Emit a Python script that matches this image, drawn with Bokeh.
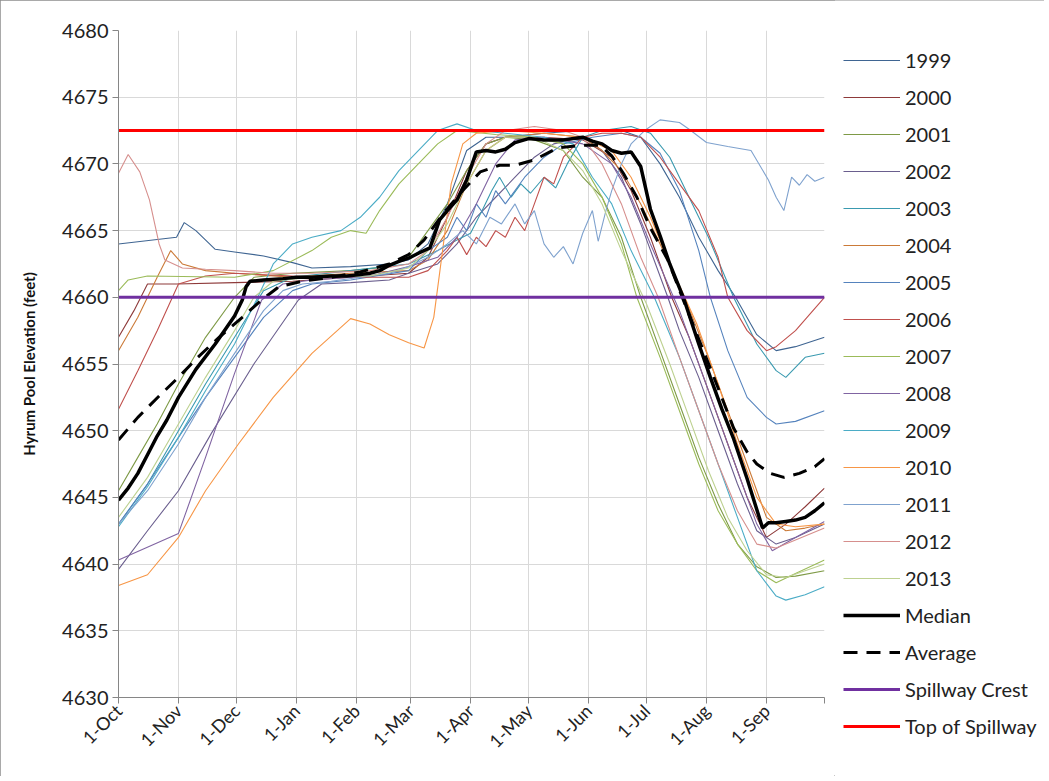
import math
from bokeh.plotting import figure
from bokeh.layouts import row
from bokeh.models import Range1d, FixedTicker, Legend, LegendItem
from bokeh.embed import file_html
from bokeh.resources import INLINE

# ---------------- data (day of water year, elevation ft) ----------------
MONTH_TICKS = [0, 31, 61, 92, 123, 151, 182, 212, 243, 273, 304, 335, 365]
MONTH_LABELS = ["1-Oct", "1-Nov", "1-Dec", "1-Jan", "1-Feb", "1-Mar", "1-Apr",
                "1-May", "1-Jun", "1-Jul", "1-Aug", "1-Sep", ""]

D1999 = [0, 30, 34, 40, 50, 60, 75, 90, 100, 120, 140, 150, 160, 170, 180, 190, 200, 220, 240, 260, 270, 280, 290, 300, 310, 319, 330, 340, 350, 365]
E1999 = [4664, 4664.5, 4665.6, 4665, 4663.6, 4663.4, 4663.1, 4662.6, 4662.2, 4662.3, 4662.5, 4662.8, 4664, 4667, 4671, 4672, 4672, 4672.3, 4672.5, 4672.5, 4672, 4670, 4667.5, 4664.5, 4662, 4660, 4657.2, 4656, 4656.3, 4657]

D2000 = [0, 8, 15, 30, 60, 90, 120, 150, 160, 170, 180, 190, 200, 220, 240, 255, 265, 275, 286, 295, 305, 315, 325, 335, 345, 355, 365]
E2000 = [4657, 4659, 4661, 4661, 4661.1, 4661.2, 4661.5, 4661.8, 4663, 4666, 4669.5, 4671.5, 4672, 4672, 4671.8, 4670.5, 4668, 4664.5, 4660, 4657, 4653, 4649, 4645, 4642, 4643, 4644.3, 4645.7]

D2001 = [0, 10, 20, 31, 45, 60, 70, 90, 120, 140, 150, 160, 170, 180, 190, 200, 215, 230, 240, 250, 260, 270, 280, 290, 300, 310, 320, 330, 340, 350, 365]
E2001 = [4645.5, 4648, 4650.5, 4653.5, 4657, 4660, 4661.5, 4661.8, 4662, 4662.3, 4663, 4665, 4667, 4669.5, 4671.5, 4672, 4671.8, 4671, 4669, 4667.5, 4664.5, 4660, 4656, 4652, 4648, 4644.5, 4641.5, 4639.8, 4639, 4639.1, 4639.5]

D2002 = [0, 15, 31, 48, 70, 93, 105, 120, 140, 150, 165, 175, 185, 195, 205, 215, 225, 240, 250, 260, 270, 284, 290, 300, 310, 320, 330, 340, 350, 365]
E2002 = [4639.6, 4642.5, 4645.5, 4649.8, 4655, 4659.8, 4661, 4661.1, 4661.3, 4661.8, 4662.5, 4664, 4666, 4667.5, 4669, 4670.5, 4671.5, 4672, 4671, 4669, 4665.5, 4660, 4657.5, 4654, 4650, 4646, 4642.5, 4641.5, 4642, 4643]

D2003 = [0, 15, 31, 45, 60, 75, 90, 120, 150, 165, 175, 182, 188, 193, 197, 203, 208, 213, 220, 226, 232, 240, 250, 265, 275, 285, 295, 305, 318, 330, 340, 345, 355, 365]
E2003 = [4643, 4646, 4650, 4653.5, 4657, 4660.5, 4661.5, 4662, 4662.5, 4663.5, 4664.3, 4664.8, 4666.5, 4668, 4669, 4667.5, 4668.5, 4667.8, 4669, 4668.2, 4670, 4672, 4672.5, 4672.8, 4672.3, 4670.5, 4667.5, 4664.5, 4660, 4656.5, 4654.5, 4654, 4655.5, 4655.8]

D2004 = [0, 10, 20, 27, 33, 45, 60, 90, 120, 150, 160, 170, 180, 190, 200, 220, 240, 250, 260, 270, 280, 294, 305, 315, 325, 335, 345, 355, 365]
E2004 = [4656, 4658.5, 4661.5, 4663.5, 4662.5, 4662, 4661.8, 4661.5, 4661.8, 4662, 4662.8, 4665, 4668.5, 4671, 4672, 4672.3, 4672, 4671, 4669.5, 4667, 4664, 4659.5, 4655.5, 4651.5, 4647.5, 4643.5, 4642.5, 4642.7, 4643]

D2005 = [0, 15, 31, 45, 60, 75, 90, 100, 120, 150, 160, 170, 175, 180, 185, 190, 195, 200, 210, 220, 230, 245, 260, 270, 280, 290, 300, 306, 315, 325, 335, 340, 350, 365]
E2005 = [4643, 4646, 4649.5, 4652.5, 4655.5, 4658.5, 4660.5, 4661, 4661.3, 4662, 4663.5, 4664.5, 4666, 4665, 4667, 4666, 4668, 4667, 4669, 4670.5, 4671.5, 4672, 4672.3, 4672, 4670.8, 4668, 4663.5, 4660, 4656, 4652.5, 4651, 4650.5, 4650.7, 4651.5]

D2006 = [0, 10, 20, 31, 45, 60, 90, 120, 150, 160, 170, 175, 180, 185, 190, 195, 200, 205, 210, 215, 220, 225, 230, 240, 250, 260, 270, 280, 290, 300, 310, 315, 325, 335, 340, 350, 365]
E2006 = [4651.6, 4654.5, 4657.5, 4661, 4661.6, 4661.8, 4661.6, 4661.5, 4661.5, 4662, 4663.5, 4664.5, 4663.2, 4664.5, 4663.8, 4665, 4664.5, 4666, 4665, 4667, 4669, 4668.5, 4670.5, 4672, 4672.3, 4672.3, 4672, 4670.5, 4668.5, 4666.5, 4663, 4660, 4657.5, 4656, 4656.3, 4657.5, 4660]

D2007 = [0, 5, 15, 60, 80, 100, 110, 120, 128, 135, 145, 155, 165, 175, 195, 215, 230, 240, 250, 260, 268, 280, 290, 300, 310, 320, 330, 340, 350, 365]
E2007 = [4660.5, 4661.3, 4661.6, 4661.5, 4662, 4663.5, 4664.5, 4665, 4664.8, 4666.5, 4668.5, 4670, 4671.5, 4672.5, 4672.2, 4672, 4671.5, 4670, 4667.5, 4664, 4660, 4655.5, 4651.5, 4647.5, 4644, 4641.5, 4639.5, 4638.6, 4639.3, 4640.3]

D2008 = [0, 31, 45, 60, 74, 85, 100, 130, 150, 165, 175, 185, 195, 205, 220, 240, 255, 265, 275, 290, 300, 310, 320, 330, 338, 350, 365]
E2008 = [4640.3, 4642.3, 4648, 4654.3, 4659.8, 4661, 4661.3, 4661.6, 4662.3, 4663, 4664.5, 4667, 4670, 4671.8, 4672, 4671.5, 4670, 4667.5, 4664, 4659, 4655, 4651, 4647, 4643, 4641, 4642, 4643.2]

D2009 = [0, 15, 31, 45, 60, 72, 80, 90, 100, 115, 125, 135, 145, 155, 165, 175, 185, 200, 220, 235, 245, 255, 265, 277, 290, 300, 310, 320, 330, 340, 345, 355, 365]
E2009 = [4642.8, 4645.8, 4649.5, 4653, 4656.5, 4660, 4662.5, 4664, 4664.5, 4665, 4666, 4667.5, 4669.5, 4671, 4672.5, 4673, 4672.5, 4672.3, 4672, 4671.5, 4669, 4667, 4663.5, 4660, 4655.5, 4651.5, 4647.5, 4643.5, 4639.5, 4637.6, 4637.3, 4637.7, 4638.3]

D2010 = [0, 15, 31, 45, 62, 80, 100, 120, 130, 140, 150, 158, 163, 168, 172, 178, 185, 200, 220, 240, 255, 265, 275, 285, 299, 310, 320, 330, 340, 350, 365]
E2010 = [4638.4, 4639.2, 4642, 4645.5, 4649, 4652.5, 4655.8, 4658.4, 4658, 4657.2, 4656.6, 4656.2, 4658.5, 4664, 4668.5, 4671.5, 4672.3, 4672.5, 4672.3, 4672, 4671, 4669, 4666, 4662.5, 4658, 4653.5, 4649, 4645, 4643, 4642.8, 4643]

D2011 = [0, 15, 31, 45, 60, 75, 85, 95, 110, 125, 140, 150, 160, 170, 178, 185, 192, 198, 205, 210, 215, 220, 225, 230, 235, 240, 245, 248, 252, 255, 260, 265, 272, 280, 290, 295, 304, 315, 327, 336, 340, 344, 348, 352, 356, 360, 365]
E2011 = [4643, 4645.5, 4649, 4652.5, 4655.8, 4659, 4660.5, 4661, 4661.2, 4661.5, 4661.8, 4662.3, 4663, 4664, 4665, 4664, 4666, 4665.5, 4667, 4665.5, 4666.5, 4664, 4663, 4663.8, 4662.5, 4664.8, 4666.5, 4664.2, 4666.5, 4668, 4670, 4671.5, 4672.5, 4673.3, 4673.1, 4672.6, 4671.6, 4671.3, 4671, 4668.8, 4667.5, 4666.5, 4669, 4668.4, 4669.2, 4668.7, 4669]

D2012 = [0, 5, 11, 16, 21, 24, 33, 45, 60, 80, 100, 130, 150, 160, 170, 180, 190, 200, 215, 230, 240, 250, 260, 270, 279, 290, 300, 310, 320, 330, 340, 350, 365]
E2012 = [4669.3, 4670.7, 4669.4, 4667.3, 4664, 4662.8, 4662.2, 4662.1, 4662, 4661.8, 4661.8, 4662, 4662.5, 4663.5, 4666, 4669, 4671.5, 4672.5, 4672.8, 4672.5, 4672, 4670, 4667, 4663, 4660, 4655.5, 4651.5, 4647.5, 4644, 4641.5, 4641.2, 4641.8, 4642.7]

D2013 = [0, 15, 31, 45, 60, 70, 80, 100, 130, 150, 160, 170, 180, 190, 200, 215, 230, 240, 250, 260, 273, 285, 295, 305, 315, 325, 335, 345, 355, 365]
E2013 = [4643.5, 4646.5, 4650.5, 4654, 4657.5, 4660, 4661.2, 4661.5, 4661.6, 4662.2, 4663.5, 4665.5, 4668.5, 4671, 4672, 4672, 4671, 4669.5, 4667, 4663.5, 4659.5, 4655, 4651, 4647, 4643.5, 4641, 4639.2, 4639, 4639.5, 4640]

MED_D = [0, 5, 10, 15, 20, 25, 31, 40, 50, 60, 64, 66, 68, 75, 85, 92, 100, 110, 118, 125, 130, 135, 140, 145, 151, 155, 161, 166, 170, 175, 180, 185, 190, 195, 200, 205, 212, 220, 230, 240, 245, 250, 255, 260, 265, 270, 275, 280, 285, 292, 300, 306, 312, 318, 325, 333, 336, 340, 345, 350, 355, 360, 365]
MEDIAN = [4644.8, 4645.7, 4646.8, 4648.2, 4649.6, 4650.8, 4652.5, 4654.6, 4656.5, 4658.6, 4659.8, 4660.8, 4661.2, 4661.3, 4661.4, 4661.5, 4661.5, 4661.6, 4661.6, 4661.7, 4661.8, 4662.0, 4662.4, 4662.7, 4663.0, 4663.3, 4663.7, 4665.8, 4666.5, 4667.3, 4668.8, 4670.9, 4671.0, 4670.9, 4671.1, 4671.6, 4671.9, 4671.8, 4671.8, 4672.0, 4671.7, 4671.5, 4671.0, 4670.8, 4670.9, 4669.8, 4666.6, 4664.6, 4662.5, 4660.0, 4656.5, 4654.0, 4651.6, 4649.4, 4646.4, 4642.7, 4643.1, 4643.1, 4643.2, 4643.3, 4643.5, 4644.0, 4644.6]

AVG_D = [0, 10, 21, 31, 41, 52, 64, 74, 83, 95, 110, 125, 140, 150, 158, 168, 178, 187, 197, 205, 215, 227, 240, 249, 255, 261, 268, 275, 284, 292, 301, 310, 318, 325, 330, 337, 344, 352, 360, 365]
AVERAGE = [4649.3, 4651.0, 4652.6, 4654.0, 4655.5, 4657.0, 4658.5, 4659.8, 4660.8, 4661.2, 4661.5, 4661.9, 4662.5, 4663.2, 4664.3, 4666.3, 4668.0, 4669.4, 4669.9, 4669.9, 4670.3, 4671.2, 4671.4, 4671.4, 4670.6, 4669.3, 4667.5, 4665.2, 4662.8, 4659.8, 4656.5, 4653.2, 4650.2, 4648.4, 4647.5, 4646.8, 4646.5, 4646.8, 4647.3, 4647.9]

SPILLWAY_D = [0, 365]
SPILLWAY_CREST = [4660, 4660]
TOP_OF_SPILLWAY = [4672.5, 4672.5]

YEARS = ["1999", "2000", "2001", "2002", "2003", "2004", "2005", "2006",
         "2007", "2008", "2009", "2010", "2011", "2012", "2013"]
YEAR_DAYS = [D1999, D2000, D2001, D2002, D2003, D2004, D2005, D2006,
             D2007, D2008, D2009, D2010, D2011, D2012, D2013]
YEAR_ELEV = [E1999, E2000, E2001, E2002, E2003, E2004, E2005, E2006,
             E2007, E2008, E2009, E2010, E2011, E2012, E2013]
YEAR_COLORS = ["#3F6592", "#8E3A3A", "#7E9A46", "#6A5E8E", "#3A9AB0", "#CB7A38",
               "#5583BD", "#C0504D", "#9BBB59", "#8064A2", "#4BACC6", "#F79646",
               "#7FA2CE", "#D68F8D", "#BDD190"]

# ---------------- main figure ----------------
FONT = "Lato"
p = figure(width=834, height=776, output_backend="svg", toolbar_location=None,
           x_range=Range1d(0, 365), y_range=Range1d(4630, 4680),
           min_border_left=118, min_border_top=30, min_border_bottom=79,
           min_border_right=10, background_fill_color="white",
           border_fill_color="white")
p.outline_line_color = None

p.xaxis.ticker = FixedTicker(ticks=MONTH_TICKS)
p.xaxis.major_label_overrides = {t: l for t, l in zip(MONTH_TICKS, MONTH_LABELS)}
p.xaxis.major_label_orientation = math.pi / 4
p.yaxis.ticker = FixedTicker(ticks=list(range(4630, 4681, 5)))

for ax in (p.xaxis[0], p.yaxis[0]):
    ax.axis_line_color = "#868686"
    ax.major_tick_line_color = "#868686"
    ax.major_tick_out = 6
    ax.major_tick_in = 0
    ax.minor_tick_line_color = None
    ax.major_label_text_font = FONT
    ax.major_label_text_color = "#222222"
p.yaxis.major_label_text_font_size = "20px"
p.xaxis.major_label_text_font_size = "18px"
p.yaxis.major_label_standoff = 4
p.xaxis.major_label_standoff = 4
p.yaxis.axis_label = "Hyrum Pool Elevation (feet)"
p.yaxis.axis_label_text_font = FONT
p.yaxis.axis_label_text_font_style = "bold"
p.yaxis.axis_label_text_font_size = "15px"
p.yaxis.axis_label_text_color = "#111111"
p.yaxis.axis_label_standoff = 21

p.xgrid.grid_line_color = "#D9D9D9"
p.ygrid.grid_line_color = "#D9D9D9"

for d, e, c in zip(YEAR_DAYS, YEAR_ELEV, YEAR_COLORS):
    p.line(d, e, line_color=c, line_width=1.1)

MED_STYLE = dict(line_color="black", line_width=3.5)
AVG_STYLE = dict(line_color="black", line_width=3, line_dash="14 9")
CREST_STYLE = dict(line_color="#7030A0", line_width=3)
TOP_STYLE = dict(line_color="#FF0000", line_width=3)
p.line(MED_D, MEDIAN, **MED_STYLE)
p.line(AVG_D, AVERAGE, **AVG_STYLE)
p.line(SPILLWAY_D, SPILLWAY_CREST, **CREST_STYLE)
p.line(SPILLWAY_D, TOP_OF_SPILLWAY, **TOP_STYLE)

# ---------------- legend panel ----------------
# Same series drawn into a side figure whose ranges exclude them, so only the
# legend of that figure is visible.
q = figure(width=210, height=776, output_backend="svg", toolbar_location=None,
           x_range=Range1d(0, 1), y_range=Range1d(0, 1),
           x_axis_type=None, y_axis_type=None,
           min_border_left=0, min_border_right=0, min_border_top=0,
           min_border_bottom=0, background_fill_color="white",
           border_fill_color="white")
q.outline_line_color = None
q.frame_align = False

items = []
for name, d, e, c in zip(YEARS, YEAR_DAYS, YEAR_ELEV, YEAR_COLORS):
    r = q.line(d, e, line_color=c, line_width=1.1)
    items.append(LegendItem(label=name, renderers=[r]))
for name, d, e, style in [("Median", MED_D, MEDIAN, MED_STYLE),
                          ("Average", AVG_D, AVERAGE, AVG_STYLE),
                          ("Spillway Crest", SPILLWAY_D, SPILLWAY_CREST, CREST_STYLE),
                          ("Top of Spillway", SPILLWAY_D, TOP_OF_SPILLWAY, TOP_STYLE)]:
    r = q.line(d, e, **style)
    items.append(LegendItem(label=name, renderers=[r]))

legend = Legend(items=items, location=(9, 38), margin=0, padding=0,
                glyph_width=57, glyph_height=20, label_height=20, spacing=13,
                label_standoff=5, label_text_font=FONT,
                label_text_font_size="20px", label_text_color="#222222",
                border_line_color=None, background_fill_alpha=0)
q.add_layout(legend)

layout = row(p, q, spacing=0)
layout.styles = {"outline": "1px solid #8c8c8c", "outline-offset": "-1px"}

open("out.html", "w").write(file_html(layout, INLINE))
